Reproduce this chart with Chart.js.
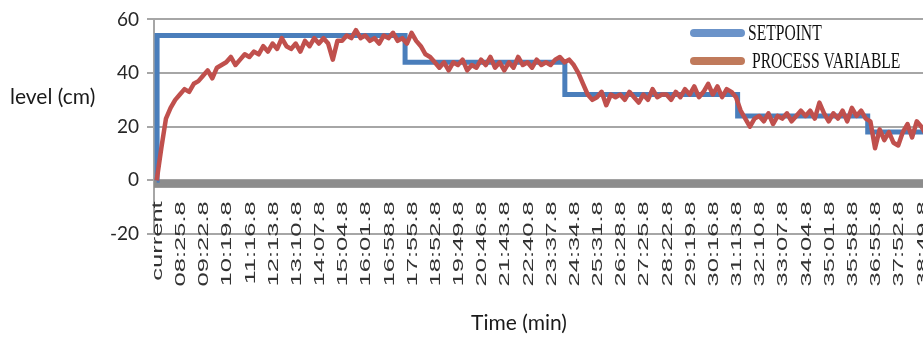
<!DOCTYPE html>
<html>
<head>
<meta charset="utf-8">
<script src="https://cdn.jsdelivr.net/npm/chart.js@4.4.1/dist/chart.umd.min.js"></script>
<style>
  html, body { margin: 0; padding: 0; background: #fff; overflow: hidden; width: 923px; height: 338px; }
  canvas { display: block; }
</style>
</head>
<body>
<canvas id="chart" width="960" height="338"></canvas>
<script>
// Category tick labels, one every 57 s of the run
const TICK_LABELS = [
  "current", "08:25.8", "09:22.8", "10:19.8", "11:16.8", "12:13.8", "13:10.8",
  "14:07.8", "15:04.8", "16:01.8", "16:58.8", "17:55.8", "18:52.8", "19:49.8",
  "20:46.8", "21:43.8", "22:40.8", "23:37.8", "24:34.8", "25:31.8", "26:28.8",
  "27:25.8", "28:22.8", "29:19.8", "30:16.8", "31:13.8", "32:10.8", "33:07.8",
  "34:04.8", "35:01.8", "35:58.8", "36:55.8", "37:52.8", "38:49.8"
];
const TICK_STEP_S = 57;

// Setpoint changes: time since start (s) and new level (cm)
const SP_TIME_S = [0, 1, 611, 1004, 1429, 1749, 1976];
const SP_LEVEL  = [0, 54, 44, 32, 24, 18, 18];

// Measured tank level (cm), one sample every 11.4 s
const PV_SAMPLE_S = 11.4;
const PV_LEVEL = [
  0, 12, 23, 27, 30,   32, 34, 33, 36, 37,   39, 41, 38, 42, 43,   44, 46, 43, 45, 47,
  46, 48, 47, 50, 48,  51, 49, 53, 50, 49,   51, 48, 52, 50, 53,   51, 53, 51, 45, 52,
  52, 54, 53, 56, 53,  54, 52, 53, 51, 54,   53, 55, 52, 53, 51,   55, 52, 50, 47, 46,
  44, 42, 44, 41, 44,  43, 45, 41, 43, 42,   45, 43, 46, 42, 44,   41, 44, 42, 46, 43,
  44, 42, 45, 43, 44,  43, 45, 46, 44, 45,   43, 40, 36, 32, 30,   31, 33, 28, 32, 31,
  32, 30, 33, 31, 29,  32, 30, 34, 31, 32,   32, 30, 33, 31, 34,   32, 35, 31, 33, 36,
  32, 35, 31, 34, 33,  31, 26, 23, 20, 23,   24, 22, 25, 21, 24,   23, 25, 22, 24, 26,
  24, 26, 23, 29, 25,  22, 25, 23, 26, 22,   27, 24, 26, 23, 22,   12, 19, 15, 18, 14,
  13, 18, 21, 16, 22,  20, 17, 19, 15, 19,   18
];

const Y_TICKS = [-20, 0, 20, 40, 60];

const LEGEND_SWATCH = ['#6b93c9', '#c07a5b'];

// Thick grey category axis drawn along the zero level
const zeroAxisBand = {
  id: 'zeroAxisBand',
  beforeDatasetsDraw(chart) {
    const { ctx, chartArea, scales } = chart;
    const y0 = scales.y.getPixelForValue(0);
    ctx.save();
    ctx.fillStyle = '#8c8c8c';
    ctx.fillRect(chartArea.left, y0 - 0.5, chartArea.right - chartArea.left, 8);
    ctx.restore();
  }
};

// Rotated time labels, axis titles and the legend
const annotations = {
  id: 'annotations',
  afterDraw(chart) {
    const { ctx, scales } = chart;
    const y0 = scales.y.getPixelForValue(0);

    ctx.save();
    ctx.fillStyle = '#333';
    ctx.font = '15px "Liberation Sans", Arial, sans-serif';
    ctx.textAlign = 'right';
    ctx.textBaseline = 'middle';
    TICK_LABELS.forEach((lab, i) => {
      const x = scales.x.getPixelForValue(i * TICK_STEP_S);
      ctx.save();
      ctx.translate(x + 1, y0 + 21);
      ctx.rotate(-Math.PI / 2);
      ctx.scale(1.7, 1);
      ctx.fillText(lab, 0, 0);
      ctx.restore();
    });
    ctx.restore();

    ctx.save();
    ctx.fillStyle = '#1a1a1a';
    ctx.font = '21px Lato, "Open Sans", sans-serif';
    ctx.textBaseline = 'middle';
    ctx.textAlign = 'left';
    ctx.fillText('level (cm)', 10, 97);
    ctx.textAlign = 'center';
    ctx.fillText('Time (min)', 519, 323);
    ctx.restore();

    const rows = [33, 61];
    chart.data.datasets.forEach((ds, i) => {
      const y = rows[i];
      ctx.save();
      ctx.strokeStyle = LEGEND_SWATCH[i];
      ctx.lineWidth = 8;
      ctx.lineCap = 'round';
      ctx.beginPath();
      ctx.moveTo(694, y);
      ctx.lineTo(741, y);
      ctx.stroke();
      ctx.fillStyle = '#111';
      ctx.font = '24px "Liberation Serif", "Times New Roman", serif';
      ctx.textAlign = 'left';
      ctx.textBaseline = 'middle';
      ctx.translate(i === 0 ? 748 : 752, y + 1);
      ctx.scale(0.65, 1);
      ctx.fillText(ds.label, 0, 0);
      ctx.restore();
    });
  }
};

new Chart(document.getElementById('chart'), {
  type: 'line',
  data: {
    datasets: [
      {
        label: 'SETPOINT',
        data: SP_TIME_S.map((t, i) => ({ x: t, y: SP_LEVEL[i] })),
        stepped: 'before',
        borderColor: '#4a7ebb',
        borderWidth: 5,
        pointRadius: 0,
        fill: false,
        order: 2
      },
      {
        label: 'PROCESS VARIABLE',
        data: PV_LEVEL.map((v, i) => ({ x: i * PV_SAMPLE_S, y: v })),
        borderColor: '#c0504d',
        borderWidth: 4.5,
        borderJoinStyle: 'round',
        pointRadius: 0,
        tension: 0,
        fill: false,
        order: 1
      }
    ]
  },
  options: {
    responsive: false,
    animation: false,
    layout: { padding: { top: 18, bottom: 104, left: 0, right: 0 } },
    plugins: { legend: { display: false }, tooltip: { enabled: false } },
    scales: {
      x: {
        type: 'linear',
        display: false,
        min: -6.6,
        max: 1976
      },
      y: {
        min: -20,
        max: 60,
        afterBuildTicks: s => { s.ticks = Y_TICKS.map(v => ({ value: v })); },
        afterFit: s => { s.width = 154; },
        ticks: {
          font: { family: 'Lato, "Open Sans", sans-serif', size: 19 },
          color: '#262626',
          padding: 8
        },
        grid: { color: '#a6a6a6', lineWidth: 2, tickLength: 7 },
        border: { display: true, color: '#a6a6a6', width: 2 }
      }
    }
  },
  plugins: [zeroAxisBand, annotations]
});
</script>
</body>
</html>
